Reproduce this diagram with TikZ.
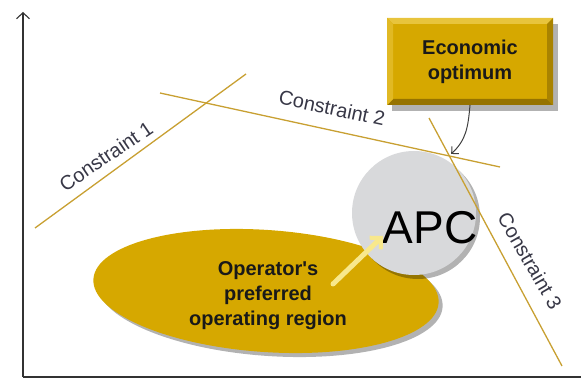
\documentclass[tikz,border=0pt]{standalone}
\usepackage{fontspec}
\setmainfont{Liberation Sans}
\usetikzlibrary{arrows.meta,shapes.geometric,shadows}
\definecolor{gold}{RGB}{214,168,0}
\definecolor{goldlight}{RGB}{232,196,60}
\definecolor{golddark}{RGB}{150,115,0}
\definecolor{cline}{RGB}{200,160,50}
\definecolor{apcgray}{RGB}{216,217,219}
\definecolor{paleyellow}{RGB}{248,232,140}
\definecolor{labelgray}{RGB}{55,55,70}
\definecolor{axisgray}{RGB}{50,50,50}
\tikzset{
  cline/.style={draw=cline, line width=1.3pt},
  clabel/.style={text=labelgray, font=\fontsize{20}{23}\selectfont, inner sep=0pt},
  btext/.style={text=black!90, font=\bfseries\fontsize{20}{25}\selectfont, align=center, inner sep=0pt},
  axis/.style={draw=axisgray, line width=1.1pt},
  softshadow/.style={drop shadow={shadow xshift=4pt, shadow yshift=-4pt, opacity=0.3, fill=black}}
}
\begin{document}
\begin{tikzpicture}[x=1pt,y=-1pt]
\useasboundingbox (0,0) rectangle (581,382);
% axes
\coordinate (origin) at (23,377);
\coordinate (ytop) at (23,12);
\coordinate (xend) at (581,377);
\draw[axis, -{Straight Barb[length=6pt,width=13pt,line width=1.1pt]}] (origin) -- (ytop);
\draw[axis] (origin) -- (xend);
% constraints
\coordinate (c1a) at (35,228);
\coordinate (c1b) at (246,74);
\coordinate (c2a) at (160,93);
\coordinate (c2b) at (500,167);
\coordinate (c3a) at (429,118);
\coordinate (c3b) at (562,366);
\coordinate (opt) at (449,156);
% operating region ellipse
\node[ellipse, fill=gold, minimum width=346pt, minimum height=122pt, rotate=-4, softshadow] (reg) at (266,291) {};
\node[btext] (regtext) at (268,296) {Operator\textquotesingle s\\preferred\\operating region};
% APC circle
\node[circle, fill=apcgray, minimum size=124pt, softshadow] (apc) at (414,213) {};
\draw[cline] (c1a) -- (c1b);
\draw[cline] (c2a) -- (c2b);
\draw[cline] (c3a) -- (c3b);
\node[clabel, rotate=34] (l1) at (106,156) {Constraint 1};
\node[clabel, rotate=-12] (l2) at (332,108) {Constraint 2};
\node[clabel, rotate=-60] (l3) at (530,261) {Constraint 3};
\node[text=black, font=\fontsize{46}{50}\selectfont, inner sep=0pt] (apctext) at (430,228) {APC};
% yellow arrow
\coordinate (ytail) at (333,284);
\coordinate (yhead) at (383,236);
\draw[draw=paleyellow, line width=5pt, line cap=round, -{Straight Barb[length=8pt,width=16pt,line width=4pt]}] (ytail) -- (yhead);
% economic optimum box
\fill[black, opacity=0.3] (392,24) rectangle (558,111);
\fill[gold] (387,18) rectangle (553,105);
\fill[goldlight] (387,18) -- (553,18) -- (547,24) -- (393,24) -- cycle;
\fill[golddark] (387,105) -- (553,105) -- (547,99) -- (393,99) -- cycle;
\fill[golddark!70!gold] (553,18) -- (553,105) -- (547,99) -- (547,24) -- cycle;
\fill[goldlight!60!gold] (387,18) -- (387,105) -- (393,99) -- (393,24) -- cycle;
\node[btext, minimum width=166pt, minimum height=87pt] (eco) at (470,61.5) {Economic\\optimum};
% curved arrow
\draw[draw=black!75, line width=1pt, -{Straight Barb[length=5pt,width=10pt,line width=1pt]}, shorten >=3pt]
  (eco.south) .. controls (468,128) and (466,140) .. (opt);
\end{tikzpicture}
\end{document}
